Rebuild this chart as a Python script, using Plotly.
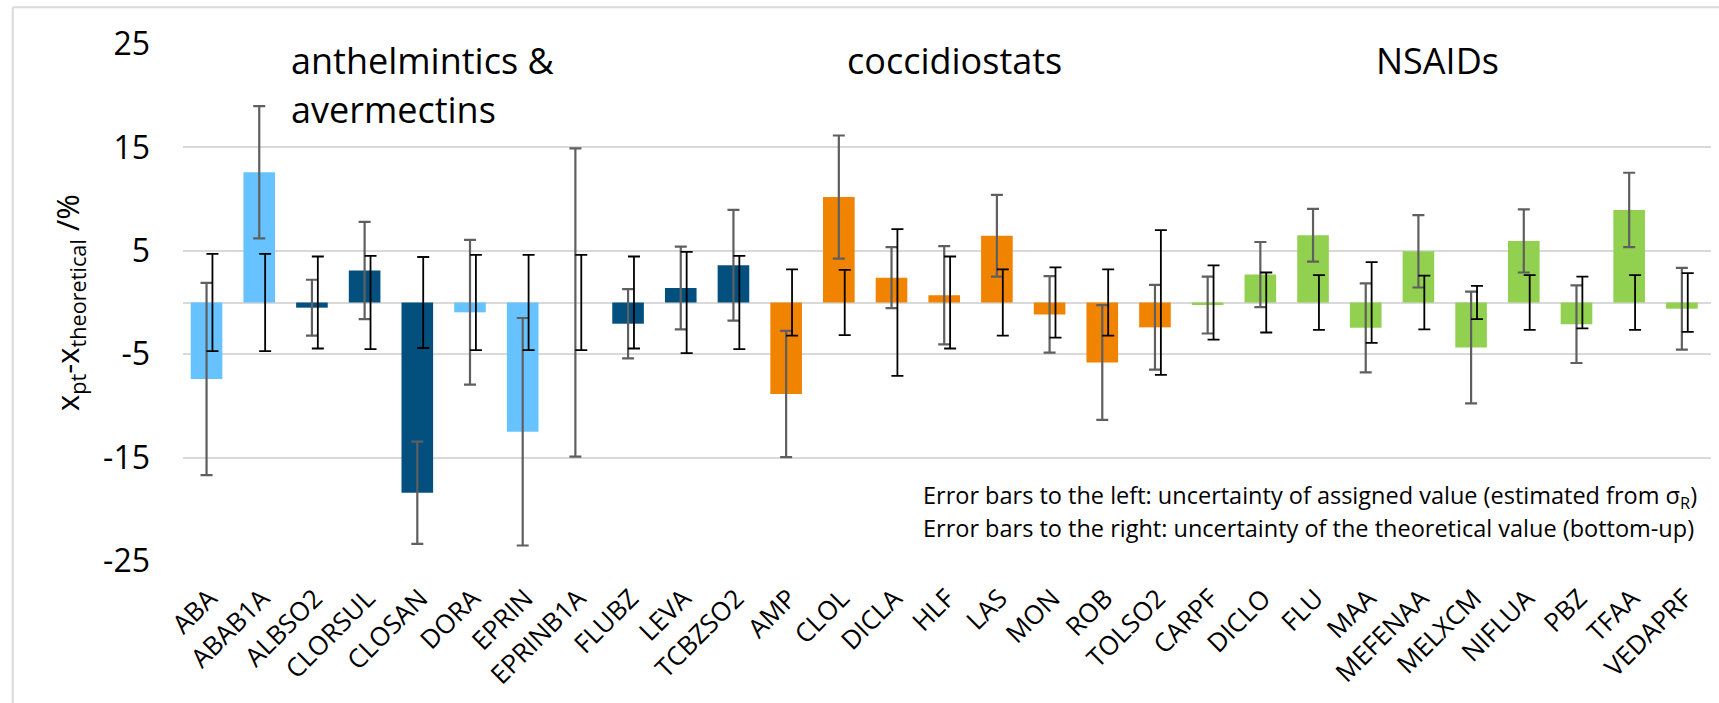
import plotly.graph_objects as go

# ---------------- data ----------------
categories = ["ABA", "ABAB1A", "ALBSO2", "CLORSUL", "CLOSAN", "DORA", "EPRIN", "EPRINB1A",
              "FLUBZ", "LEVA", "TCBZSO2", "AMP", "CLOL", "DICLA", "HLF", "LAS", "MON", "ROB",
              "TOLSO2", "CARPF", "DICLO", "FLU", "MAA", "MEFENAA", "MELXCM", "NIFLUA", "PBZ",
              "TFAA", "VEDAPRF"]

substance_class = ["avermectin", "avermectin", "anthelmintic", "anthelmintic", "anthelmintic",
                   "avermectin", "avermectin", "avermectin", "anthelmintic", "anthelmintic",
                   "anthelmintic", "coccidiostat", "coccidiostat", "coccidiostat", "coccidiostat",
                   "coccidiostat", "coccidiostat", "coccidiostat", "coccidiostat", "nsaid", "nsaid",
                   "nsaid", "nsaid", "nsaid", "nsaid", "nsaid", "nsaid", "nsaid", "nsaid"]

# x_pt - x_theoretical (%)
deviation = [-7.4, 12.6, -0.5, 3.1, -18.4, -0.95, -12.5, 0.0, -2.05, 1.4, 3.6,
             -8.85, 10.2, 2.4, 0.7, 6.45, -1.15, -5.8, -2.4,
             -0.25, 2.7, 6.5, -2.45, 4.95, -4.35, 5.95, -2.1, 8.95, -0.6]

# uncertainty of assigned value (estimated from sigma_R)  -> left error bars
u_assigned = [9.3, 6.4, 2.7, 4.7, 4.95, 7.0, 11.0, 14.9, 3.35, 4.0, 5.35,
              6.1, 5.95, 2.95, 4.75, 3.95, 3.7, 5.55, 4.1,
              2.75, 3.15, 2.55, 4.3, 3.5, 5.4, 3.05, 3.75, 3.6, 3.95]

# uncertainty of the theoretical value (bottom-up) -> right error bars, centred on 0
u_theoretical = [4.7, 4.7, 4.45, 4.5, 4.4, 4.6, 4.6, 4.6, 4.45, 4.9, 4.5,
                 3.2, 3.15, 7.1, 4.45, 3.2, 3.4, 3.2, 7.0,
                 3.6, 2.9, 2.65, 3.9, 2.6, 1.6, 2.65, 2.5, 2.65, 2.85]
theoretical_reference = [0.0] * len(categories)

y_tick_values = [-25, -15, -5, 5, 15, 25]
y_tick_text = ["-25", "-15", "-5", "5", "15", "25"]

group_labels = ["anthelmintics &", "avermectins", "coccidiostats", "NSAIDs"]
note_lines = ["Error bars to the left: uncertainty of assigned value (estimated from σ<sub>R</sub>)",
              "Error bars to the right: uncertainty of the theoretical value (bottom-up)"]
y_title = "x<sub>pt</sub>-x<sub>theoretical</sub> /%"

# ---------------- style ----------------
class_colors = {"avermectin": "#66C3FF", "anthelmintic": "#03507F",
                "coccidiostat": "#F08300", "nsaid": "#92D050"}
FONT = "Open Sans"
W, H = 1719, 703
ML, MR, MT, MB = 183, 8, 44, 142
PW, PH = W - ML - MR, H - MT - MB


def px_x(x):
    return (x - ML) / PW


def px_y(y):
    return (H - MB - y) / PH


bar_colors = [class_colors[c] for c in substance_class]

fig = go.Figure()
fig.add_trace(go.Bar(
    x=categories, y=deviation, width=0.6, offset=-0.353,
    marker=dict(color=bar_colors, line=dict(width=0)),
    error_y=dict(type="data", array=u_assigned, visible=True,
                 color="#5f5f5f", thickness=2.2, width=6),
    showlegend=False, hoverinfo="x+y"))
fig.add_trace(go.Bar(
    x=categories, y=theoretical_reference, width=0.6, offset=-0.241,
    marker=dict(color="rgba(0,0,0,0)", line=dict(width=0)),
    error_y=dict(type="data", array=u_theoretical, visible=True,
                 color="#000000", thickness=1.8, width=6),
    showlegend=False, hoverinfo="skip"))

annotations = [
    dict(text=group_labels[0], x=px_x(289), y=px_y(60), xanchor="left", yanchor="middle"),
    dict(text=group_labels[1], x=px_x(289), y=px_y(110), xanchor="left", yanchor="middle"),
    dict(text=group_labels[2], x=px_x(955), y=px_y(60), xanchor="center", yanchor="middle"),
    dict(text=group_labels[3], x=px_x(1437), y=px_y(60), xanchor="center", yanchor="middle"),
]
for a in annotations:
    a.update(xref="paper", yref="paper", showarrow=False,
             font=dict(family=FONT, size=36, color="#000000"))

for i, line in enumerate(note_lines):
    annotations.append(dict(text=line, x=px_x(921), y=px_y(496 + 32 * i), xref="paper",
                            yref="paper", xanchor="left", yanchor="middle", showarrow=False,
                            font=dict(family=FONT, size=23.5, color="#000000")))

annotations.append(dict(text=y_title, textangle=-90, x=px_x(69), y=px_y(303), xref="paper",
                        yref="paper", xanchor="center", yanchor="middle", showarrow=False,
                        font=dict(family=FONT, size=31, color="#000000")))

frame = "#d9d9d9"
shapes = [
    dict(type="line", xref="paper", yref="paper", x0=px_x(12.7), x1=px_x(12.7),
         y0=px_y(7.3), y1=px_y(H + 20), line=dict(color=frame, width=2)),
    dict(type="line", xref="paper", yref="paper", x0=px_x(12.7), x1=px_x(W + 20),
         y0=px_y(7.3), y1=px_y(7.3), line=dict(color=frame, width=2)),
]

fig.update_layout(
    width=W, height=H, barmode="overlay",
    margin=dict(l=ML, r=MR, t=MT, b=MB, pad=0),
    paper_bgcolor="white", plot_bgcolor="white",
    font=dict(family=FONT, color="#000000"),
    annotations=annotations, shapes=shapes, showlegend=False,
    xaxis=dict(type="category", tickangle=-45, showgrid=False, zeroline=False,
               showline=False, ticks="", ticklabelstandoff=16,
               tickfont=dict(family=FONT, size=26, color="#000000"), automargin=False),
    yaxis=dict(range=[-25, 25], tickvals=y_tick_values, ticktext=y_tick_text, showgrid=True,
               gridcolor="#d9d9d9", gridwidth=1.7, zeroline=True,
               zerolinecolor="#d9d9d9", zerolinewidth=1.7, showline=False, ticks="",
               ticklabelstandoff=32, tickfont=dict(family=FONT, size=32, color="#000000"),
               automargin=False),
)

fig.write_html("out.html")
